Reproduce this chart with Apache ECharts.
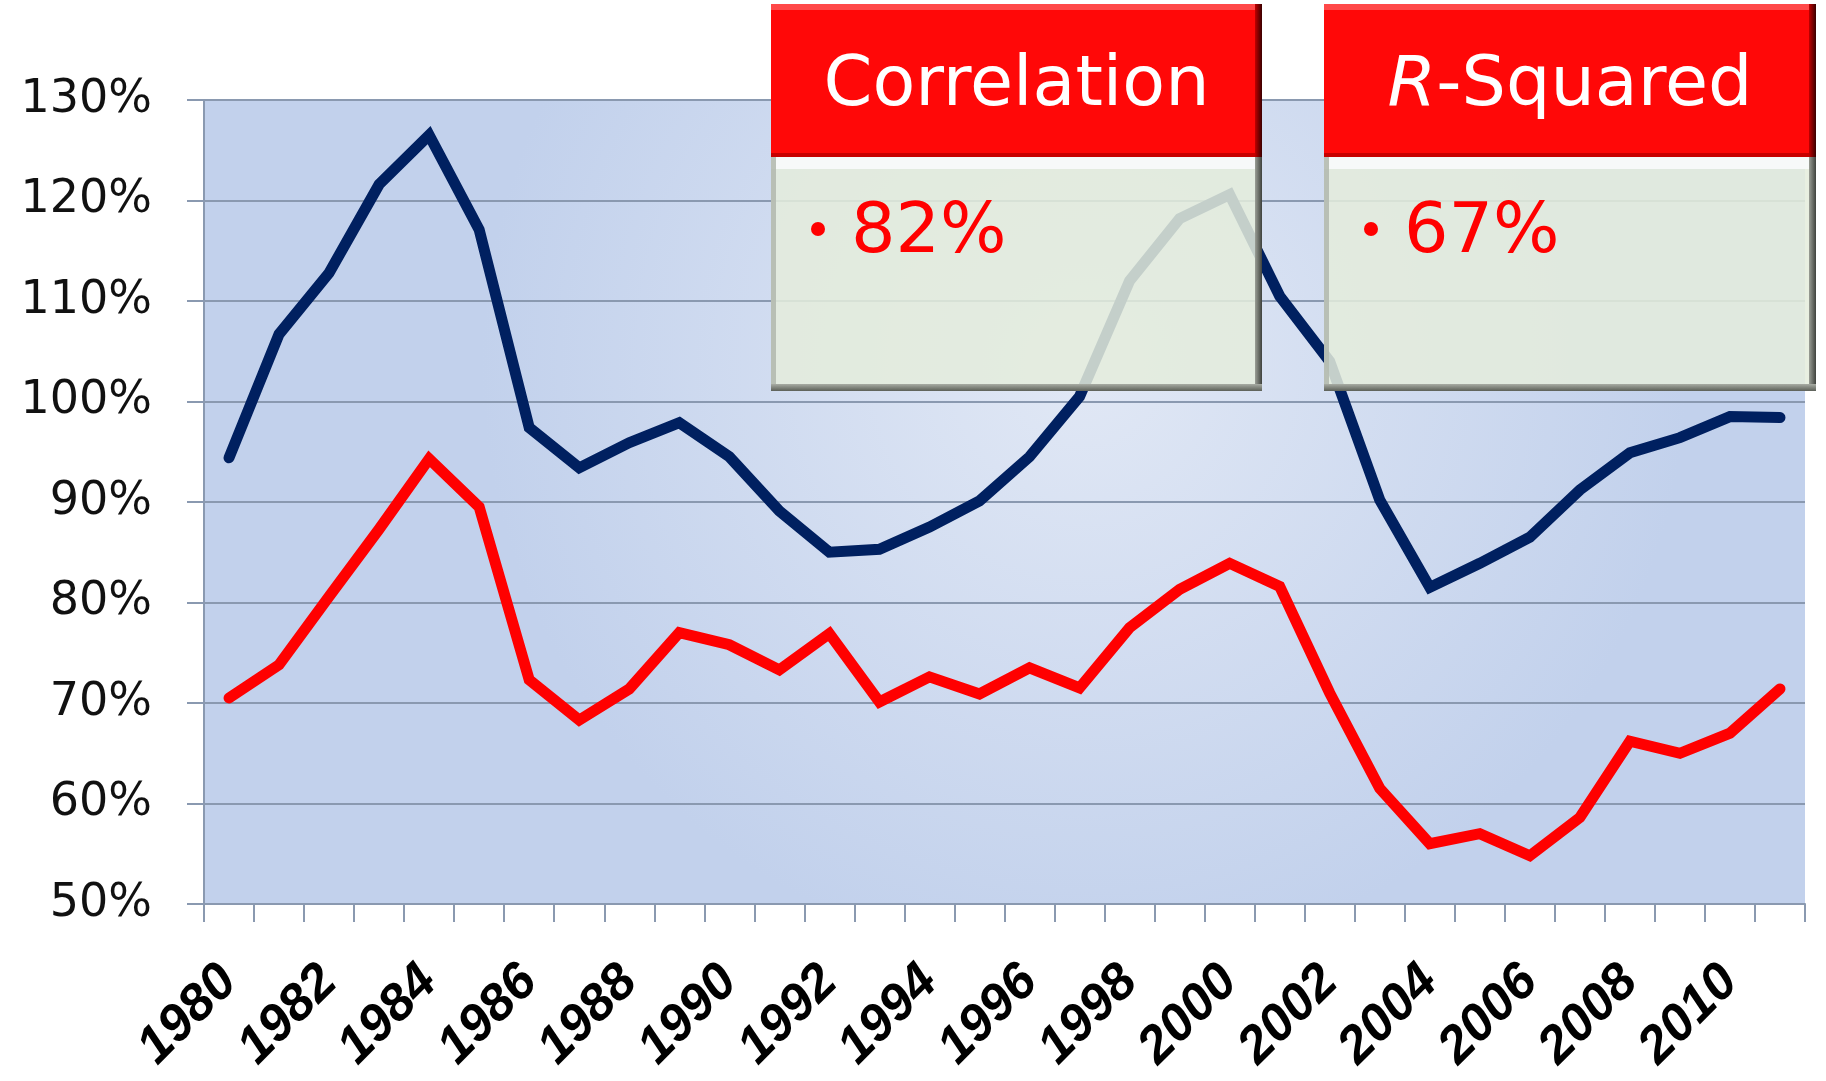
<!DOCTYPE html>
<html>
<head>
<meta charset="utf-8">
<script src="https://cdn.jsdelivr.net/npm/echarts@6/dist/echarts.min.js"></script>
<style>
  html, body { margin: 0; padding: 0; background: #fff; }
  #main { width: 1826px; height: 1081px; }
</style>
</head>
<body>
<div id="main"></div>
<script>
// categories
const years = ['1980', '1981', '1982', '1983', '1984', '1985', '1986', '1987',
  '1988', '1989', '1990', '1991', '1992', '1993', '1994', '1995',
  '1996', '1997', '1998', '1999', '2000', '2001', '2002', '2003',
  '2004', '2005', '2006', '2007', '2008', '2009', '2010', '2011'];

// dark blue line (%)
const blueSeries = [94.4, 106.7, 112.8, 121.6, 126.5, 117.1, 97.4, 93.4,
  95.9, 97.9, 94.5, 89.1, 85.0, 85.3, 87.5, 90.1,
  94.5, 100.5, 112.0, 118.2, 120.6, 110.5, 104.0, 90.2,
  81.5, 83.9, 86.5, 91.2, 94.9, 96.4, 98.5, 98.4];

// red line (%)
const redSeries = [70.5, 73.8, 80.6, 87.3, 94.3, 89.5, 72.3, 68.3,
  71.4, 77.0, 75.8, 73.3, 76.9, 70.1, 72.6, 70.9,
  73.5, 71.5, 77.5, 81.3, 83.9, 81.6, 71.0, 61.5,
  56.0, 57.0, 54.8, 58.6, 66.2, 65.0, 67.0, 71.4];

// y axis ticks
const yMin = 50, yMax = 130, yStep = 10;

// call-out boxes
const boxTitles = ['Correlation', '{i|R}-Squared'];
const boxValues = ['82%', '67%'];

const gridColor = '#8a99b0';
const chart = echarts.init(document.getElementById('main'));

function makeBox(x, w, title, value) {
  const top = 4, headH = 153, bodyH = 234;
  const bodyTop = top + headH;
  const z = 100;
  return [
    // header
    { type: 'rect', z: z, shape: { x: x, y: top, width: w, height: headH },
      style: { fill: '#ff0808' } },
    { type: 'rect', z: z + 1, shape: { x: x, y: top, width: w, height: 6 },
      style: { fill: '#ff4848' } },
    { type: 'rect', z: z + 1, shape: { x: x + w - 7, y: top, width: 7, height: headH },
      style: { fill: new echarts.graphic.LinearGradient(0, 0, 1, 0, [
        { offset: 0, color: '#c00000' }, { offset: 1, color: '#3a0000' }]) } },
    { type: 'rect', z: z + 1, shape: { x: x, y: bodyTop - 4, width: w - 7, height: 4 },
      style: { fill: '#c80000' } },
    { type: 'text', z: z + 2, style: {
        text: title, x: x + w / 2, y: top + headH / 2 + 6,
        align: 'center', verticalAlign: 'middle',
        font: '70px "DejaVu Sans"', fill: '#ffffff',
        rich: { i: { fontStyle: 'italic', fontSize: 70, fontFamily: 'DejaVu Sans', fill: '#ffffff' } }
      } },
    // body
    { type: 'rect', z: z, shape: { x: x, y: bodyTop, width: w, height: bodyH },
      style: { fill: 'rgba(228,236,220,0.86)' } },
    { type: 'rect', z: z + 1, shape: { x: x, y: bodyTop, width: w, height: 12 },
      style: { fill: 'rgba(248,250,250,0.95)' } },
    { type: 'rect', z: z + 1, shape: { x: x, y: bodyTop, width: 5, height: bodyH },
      style: { fill: 'rgba(180,186,176,0.9)' } },
    { type: 'rect', z: z + 1, shape: { x: x + w - 7, y: bodyTop, width: 7, height: bodyH },
      style: { fill: new echarts.graphic.LinearGradient(0, 0, 1, 0, [
        { offset: 0, color: '#9a9e96' }, { offset: 1, color: '#3f423d' }]) } },
    { type: 'rect', z: z + 1, shape: { x: x, y: bodyTop + bodyH - 7, width: w, height: 7 },
      style: { fill: new echarts.graphic.LinearGradient(0, 0, 0, 1, [
        { offset: 0, color: '#a8aca4' }, { offset: 1, color: '#5c6058' }]) } },
    { type: 'circle', z: z + 2, shape: { cx: x + 47, cy: 229, r: 7 },
      style: { fill: '#ff0000' } },
    { type: 'text', z: z + 2, style: {
        text: value, x: x + 80, y: 234,
        align: 'left', verticalAlign: 'middle',
        font: '70px "DejaVu Sans"', fill: '#ff0000'
      } }
  ];
}

const option = {
  backgroundColor: '#ffffff',
  animation: false,
  grid: {
    left: 204, right: 21, top: 100, bottom: 177,
    show: true,
    borderWidth: 0,
    backgroundColor: new echarts.graphic.RadialGradient(0.55, 0.33, 0.75, [
      { offset: 0, color: '#e1e8f5' },
      { offset: 1, color: '#c2d1ec' }
    ])
  },
  xAxis: {
    type: 'category',
    data: years,
    boundaryGap: true,
    axisLine: { lineStyle: { color: gridColor, width: 2 } },
    axisTick: { show: true, interval: 0, length: 18, lineStyle: { color: gridColor, width: 2 } },
    axisLabel: {
      interval: 1,
      rotate: 45,
      margin: 70,
      color: '#000',
      fontFamily: 'Liberation Sans',
      fontWeight: 'bold',
      fontStyle: 'italic',
      fontSize: 52
    },
    splitLine: { show: false }
  },
  yAxis: {
    type: 'value',
    min: yMin, max: yMax, interval: yStep,
    axisLine: { show: true, lineStyle: { color: gridColor, width: 2 } },
    axisTick: { show: true, length: 17, lineStyle: { color: gridColor, width: 2 } },
    axisLabel: {
      formatter: '{value}%',
      margin: 52,
      color: '#111',
      fontFamily: 'DejaVu Sans',
      fontSize: 46
    },
    splitLine: { show: true, lineStyle: { color: gridColor, width: 2 } }
  },
  series: [
    {
      type: 'line', name: 'blue', data: blueSeries,
      symbol: 'none', z: 3,
      lineStyle: { color: '#002060', width: 11, cap: 'round', join: 'miter' }
    },
    {
      type: 'line', name: 'red', data: redSeries,
      symbol: 'none', z: 3,
      lineStyle: { color: '#ff0000', width: 11, cap: 'round', join: 'miter' }
    }
  ],
  graphic: {
    elements: makeBox(771, 491, boxTitles[0], boxValues[0])
      .concat(makeBox(1324, 492, boxTitles[1], boxValues[1]))
  }
};

chart.setOption(option);
</script>
</body>
</html>
